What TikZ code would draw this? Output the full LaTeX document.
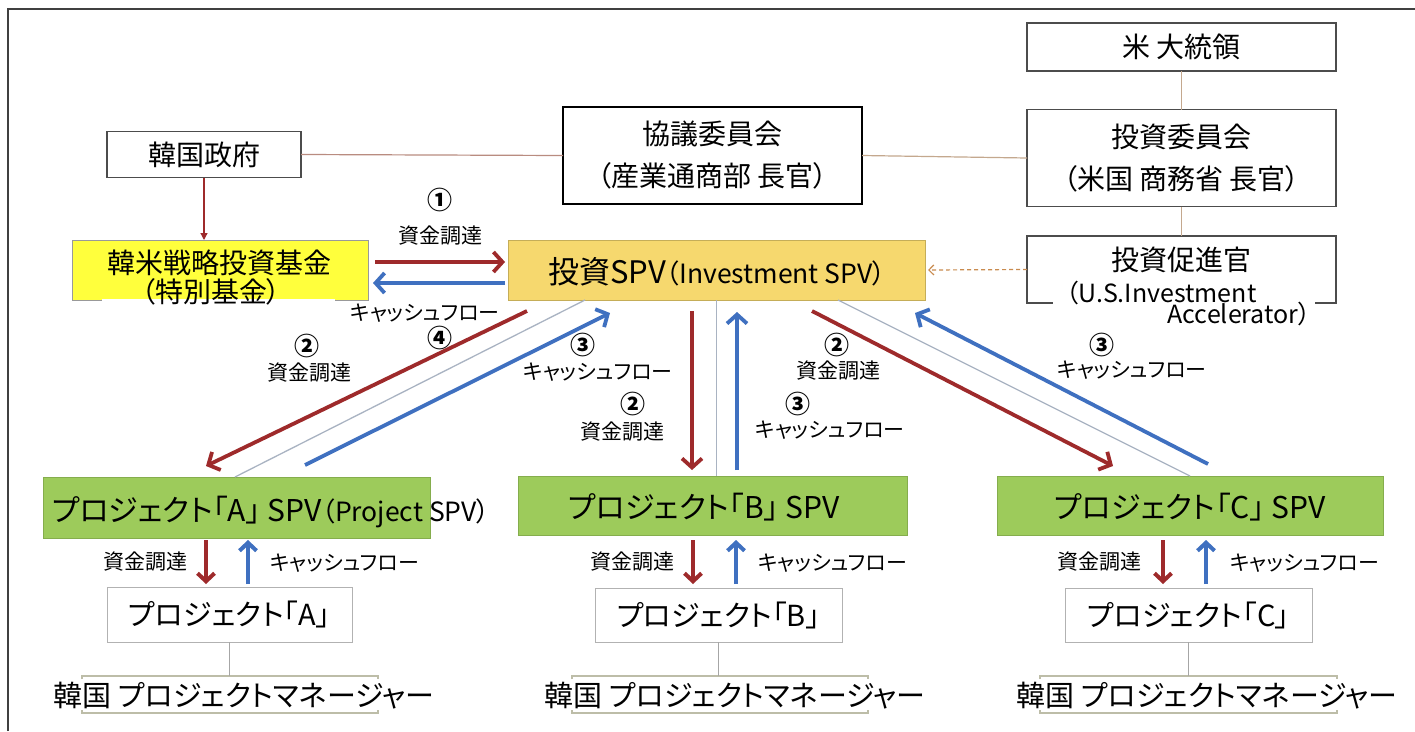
\documentclass[tikz,border=0pt]{standalone}
\usepackage{fontspec}
\setmainfont{Noto Sans CJK JP}[RawFeature=+palt]
\usetikzlibrary{arrows.meta,calc}
\definecolor{fundred}{HTML}{9E2A2B}
\definecolor{cfblue}{HTML}{3F70C0}
\definecolor{thinc}{HTML}{A9B3C2}
\definecolor{tanline}{HTML}{C4A88E}
\definecolor{pinkline}{HTML}{B98C80}
\definecolor{yel}{HTML}{FFFF3C}
\definecolor{goldc}{HTML}{F6D86E}
\definecolor{grn}{HTML}{9DCB5B}
\definecolor{dashcol}{HTML}{C98B4F}
\definecolor{olivec}{HTML}{BDBDA8}
\tikzset{
 every node/.style={inner sep=0pt, outer sep=0pt},
 bigtxt/.style={font=\fontsize{28}{42}\selectfont, align=center},
 midtxt/.style={font=\fontsize{29}{32}\selectfont},
 spvtxt/.style={font=\fontsize{30}{32}\selectfont},
 smalltxt/.style={font=\fontsize{21}{24}\selectfont},
 numtxt/.style={font=\fontsize{25}{28}\selectfont\bfseries},
 darkbox/.style={draw=black!70, line width=1.4pt},
 lightbox/.style={draw=black!30, line width=0.9pt},
 greenbox/.style={draw=grn!85!black, line width=0.8pt, fill=grn},
 rarrow/.style={draw=fundred, line width=3.8pt, -{Straight Barb[length=9pt,width=20pt,line width=3.8pt]}},
 barrow/.style={draw=cfblue, line width=3.8pt, -{Straight Barb[length=9pt,width=20pt,line width=3.8pt]}},
 rshort/.style={draw=fundred, line width=4pt, -{Straight Barb[length=8pt,width=17pt,line width=4pt]}},
 bshort/.style={draw=cfblue, line width=4pt, -{Straight Barb[length=8pt,width=17pt,line width=4pt]}},
 thinline/.style={draw=thinc, line width=1.3pt},
 tanconn/.style={draw=tanline, line width=1.2pt},
}
\begin{document}
\begin{tikzpicture}[x=1pt,y=-1pt]
\useasboundingbox (0,0) rectangle (1415,731);
\fill[white] (0,0) rectangle (1415,731);
% outer frame
\draw[black!75, line width=1.6pt] (8,731) -- (8,9) -- (1415,9);

% top boxes
\node[darkbox, minimum width=194pt, minimum height=46pt, bigtxt] (gov) at (204,154.5) {韓国政府};
\node[draw=black, line width=1.5pt, minimum width=299pt, minimum height=97pt, bigtxt] (council) at (712.5,155.5) {協議委員会\\（産業通商部 長官）};
\node[darkbox, minimum width=309pt, minimum height=48pt, bigtxt] (pres) at (1181.5,47) {米 大統領};
\node[darkbox, minimum width=309pt, minimum height=97pt, bigtxt] (invcom) at (1181.5,158) {投資委員会\\（米国 商務省 長官）};
\node[darkbox, minimum width=309pt, minimum height=67pt] (promo) at (1181.5,269.5) {};
\draw[white, line width=3pt] (1053,303) -- (1315,303);
\node[bigtxt] (promot) at (1181.5,260) {投資促進官};
\node[font=\fontsize{25}{26}\selectfont, anchor=west] (promou) at (1066,293) {（U.S.Investment};
\node[font=\fontsize{25}{26}\selectfont, anchor=east] (promoa) at (1311,314) {Accelerator）};

% fund box
\node[draw=black!40, line width=1pt, fill=yel, minimum width=296pt, minimum height=60pt] (fund) at (220,270) {};
\draw[white, line width=3pt] (102,300.5) -- (335,300.5);
\node[bigtxt] (fundt1) at (219,263) {韓米戦略投資基金};
\node[bigtxt] (fundt2) at (211,292) {（特別基金）};

% investment SPV
\node[draw=goldc!80!black, line width=0.8pt, fill=goldc, minimum width=417pt, minimum height=60pt] (spv) at (716.5,270) {};
\node (spvt) at (717,272) {{\fontsize{31}{31}\selectfont 投資SPV}{\fontsize{26.5}{27}\selectfont（Investment SPV）}};

% project SPVs
\node[greenbox, minimum width=387pt, minimum height=61pt] (pA) at (236.5,507.5) {};
\node[anchor=west] (pAt) at (52,512) {{\fontsize{30}{30}\selectfont プロジェクト「A」 SPV}{\fontsize{26.5}{27}\selectfont（Project SPV）}};
\node[greenbox, minimum width=389pt, minimum height=59pt] (pB) at (712.5,505.5) {};
\node[spvtxt] (pBt) at (704,507) {プロジェクト「B」 SPV};
\node[greenbox, minimum width=386pt, minimum height=59pt] (pC) at (1190,505.5) {};
\node[spvtxt] (pCt) at (1190,507) {プロジェクト「C」 SPV};

% projects
\node[lightbox, minimum width=245pt, minimum height=55pt, midtxt] (prA) at (229.5,614.5) {プロジェクト「A」};
\node[lightbox, minimum width=247pt, minimum height=54pt, midtxt] (prB) at (718.5,615) {プロジェクト「B」};
\node[lightbox, minimum width=247pt, minimum height=54pt, midtxt] (prC) at (1188.5,615) {プロジェクト「C」};

% managers (bracket frames)
\foreach \n/\a/\b in {mA/82/378, mB/572/868, mC/1040/1337}{
  \draw[olivec, line width=1.6pt] (\a,679) -- (\a,676) -- (\b,676) -- (\b,679);
  \draw[olivec, line width=1.6pt] (\a,710) -- (\a,713) -- (\b,713) -- (\b,710);
  \coordinate (\n) at ({(\a+\b)/2},676);
}
\node[midtxt] (mgrA) at (244,696) {韓国 プロジェクトマネージャー};
\node[midtxt] (mgrB) at (735,696) {韓国 プロジェクトマネージャー};
\node[midtxt] (mgrC) at (1207,696) {韓国 プロジェクトマネージャー};
\draw[black!35, line width=1pt] (prA.south) -- (prA.south |- mA);
\draw[black!35, line width=1pt] (prB.south) -- (prB.south |- mB);
\draw[black!35, line width=1pt] (prC.south) -- (prC.south |- mC);

% top connectors
\draw[pinkline, line width=1.2pt] (gov.east) -- (council.west);
\draw[tanconn] (council.east) -- (invcom.west);
\draw[tanconn] (pres.south) -- (invcom.north);
\draw[tanconn] (invcom.south) -- (promo.north);
\draw[fundred, line width=1.2pt, -{Triangle[length=7pt,width=7pt]}] (gov.south) -- (gov.south |- fund.north);
\draw[dashcol, line width=1.2pt, dash pattern=on 4pt off 3pt, -{Straight Barb[length=5pt,width=10pt]}] (promo.west) -- ($(spv.east)+(3,0)$);

% arrows fund <-> spv
\coordinate (f1s) at (375,262); \coordinate (f1e) at (505,262);
\coordinate (c1s) at (505,283); \coordinate (c1e) at (373,283);
\draw[rarrow] (f1s) -- (f1e);
\draw[barrow] (c1s) -- (c1e);
\node[numtxt] (n1) at (440,200) {①};
\node[smalltxt] (l1) at (440,236) {資金調達};
\node[smalltxt] (l1b) at (425,313) {キャッシュフロー};
\node[numtxt] (n4) at (440,338) {④};

% spv -> A
\coordinate (ra1) at (527,311); \coordinate (ra2) at (206,466);
\coordinate (ba1) at (305,465); \coordinate (ba2) at (610,313);
\coordinate (ta1) at (585,300); \coordinate (ta2) at (235,477);
\draw[thinline] (ta1) -- (ta2);
\draw[rarrow] (ra1) -- (ra2);
\draw[barrow] (ba1) -- (ba2);
\node[numtxt] (n2a) at (307,346) {②};
\node[smalltxt] (l2a) at (309,373) {資金調達};
\node[numtxt] (n3a) at (583,345) {③};
\node[smalltxt] (l3a) at (598,372) {キャッシュフロー};

% spv -> B
\coordinate (rb1) at (692,311); \coordinate (rb2) at (692,470);
\coordinate (bb1) at (737,470); \coordinate (bb2) at (737,312);
\draw[thinline] (spv.south) -- (spv.south |- pB.north);
\draw[rarrow] (rb1) -- (rb2);
\draw[barrow] (bb1) -- (bb2);
\node[numtxt] (n2b) at (633,404) {②};
\node[smalltxt] (l2b) at (622,432) {資金調達};
\node[numtxt] (n3b) at (798,404) {③};
\node[smalltxt] (l3b) at (830,430) {キャッシュフロー};

% spv -> C
\coordinate (rc1) at (812,311); \coordinate (rc2) at (1113,466);
\coordinate (bc1) at (1208,464); \coordinate (bc2) at (915,313);
\coordinate (tc1) at (838,300); \coordinate (tc2) at (1190,476);
\draw[thinline] (tc1) -- (tc2);
\draw[rarrow] (rc1) -- (rc2);
\draw[barrow] (bc1) -- (bc2);
\node[numtxt] (n2c) at (837,345) {②};
\node[smalltxt] (l2c) at (838,371) {資金調達};
\node[numtxt] (n3c) at (1102,345) {③};
\node[smalltxt] (l3c) at (1132,370) {キャッシュフロー};

% short arrows project SPV <-> project
\foreach \n/\r/\b in {A/206/248, B/693/736, C/1163/1206}{
  \coordinate (rs\n) at (\r,540); \coordinate (re\n) at (\r,584);
  \coordinate (bs\n) at (\b,584); \coordinate (be\n) at (\b,540);
  \draw[rshort] (rs\n) -- (re\n);
  \draw[bshort] (bs\n) -- (be\n);
}
\node[smalltxt] (sfA) at (145,562) {資金調達};
\node[smalltxt, anchor=west] (scA) at (270,563) {キャッシュフロー};
\node[smalltxt] (sfB) at (632,562) {資金調達};
\node[smalltxt, anchor=west] (scB) at (758,563) {キャッシュフロー};
\node[smalltxt] (sfC) at (1099,562) {資金調達};
\node[smalltxt, anchor=west] (scC) at (1230,563) {キャッシュフロー};
\end{tikzpicture}
\end{document}
